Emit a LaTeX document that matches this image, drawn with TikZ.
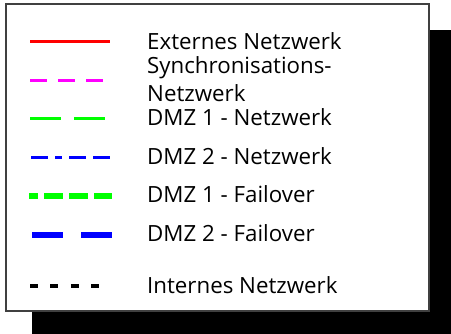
\documentclass[tikz,border=0pt]{standalone}
\usepackage{fontspec}
\setmainfont{Open Sans}
\definecolor{extred}{RGB}{255,0,0}
\definecolor{syncmag}{RGB}{255,0,255}
\definecolor{dmzgreen}{RGB}{0,255,0}
\definecolor{dmzblue}{RGB}{0,0,255}
\begin{document}
\begin{tikzpicture}[x=1pt,y=-1pt,
  legendtext/.style={anchor=base west,inner sep=0pt,font=\fontsize{22.3}{26}\selectfont},
  sample/.style={line width=#1},
  sample/.default=3pt]
\useasboundingbox (0,0) rectangle (451,334);
% drop shadow and frame
\fill[black] (32,30) rectangle (451,334);
\draw[fill=white,draw=black!75,line width=1.2pt] (6,4) rectangle (429,311);
% line samples
\draw[sample,extred] (30,42) -- (110,42);
\draw[sample,syncmag,dash pattern=on 17pt off 11pt] (30,81) -- (103,81);
\draw[sample,dmzgreen,dash pattern=on 31pt off 13pt] (30,119) -- (105,119);
\draw[sample,dmzblue,dash pattern=on 17.4pt off 6.6pt on 7pt off 7pt on 17.4pt off 6.6pt on 17.4pt off 6.6pt] (31,158) -- (110.7,158);
\draw[sample=6pt,dmzgreen,dash pattern=on 18.7pt off 6.3pt,dash phase=9.7pt] (29,196.5) -- (112,196.5);
\draw[sample=6pt,dmzblue,dash pattern=on 31pt off 18pt] (32,235) -- (112,235);
\draw[sample=4pt,black,dash pattern=on 7.7pt off 12.7pt] (30,286) -- (99,286);
% labels
\node[legendtext] (ext) at (147,50) {Externes Netzwerk};
\node[legendtext] (sync) at (147,74) {Synchronisations-};
\node[legendtext] (sync2) at (147,101.7) {Netzwerk};
\node[legendtext] (dmz1) at (147,126) {DMZ 1 - Netzwerk};
\node[legendtext] (dmz2) at (147,165) {DMZ 2 - Netzwerk};
\node[legendtext] (fo1) at (147,203) {DMZ 1 - Failover};
\node[legendtext] (fo2) at (147,241.7) {DMZ 2 - Failover};
\node[legendtext] (int) at (147,293.3) {Internes Netzwerk};
\end{tikzpicture}
\end{document}
